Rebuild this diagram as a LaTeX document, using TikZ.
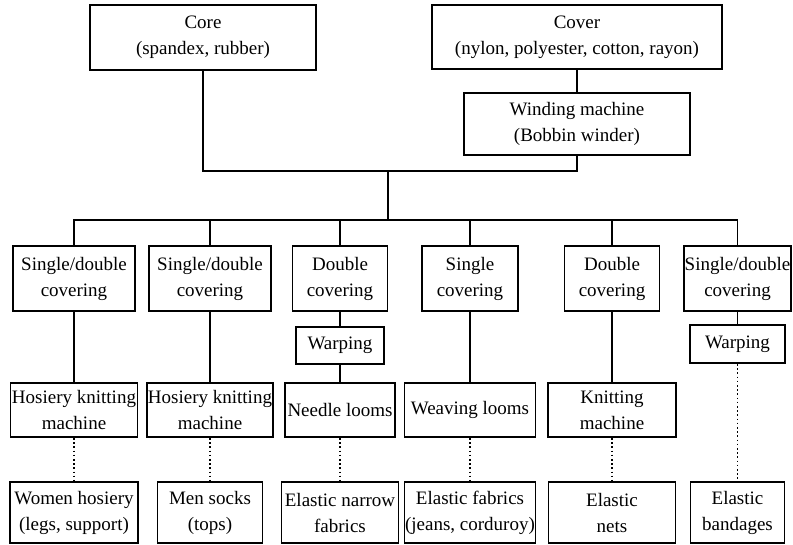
\documentclass[tikz,border=0pt]{standalone}
\usepackage{fontspec}
\setmainfont{Liberation Serif}
\begin{document}
\begin{tikzpicture}[x=1pt,y=-1pt,line width=1.8pt,
  box/.style={draw,align=center,inner sep=0pt,font=\fontsize{19}{26}\selectfont},
  dots/.style={line width=1.6pt,dash pattern=on 1.6pt off 2.6pt}]
  \useasboundingbox (0,0) rectangle (793,544);
  \node[box,minimum width=226,minimum height=65] (core) at (203,37.5) {Core\\(spandex, rubber)};
  \node[box,minimum width=290,minimum height=64] (cover) at (577,37) {Cover\\(nylon, polyester, cotton, rayon)};
  \node[box,minimum width=226,minimum height=62] (wind) at (577,124) {Winding machine\\(Bobbin winder)};
  \coordinate (join) at (388,171);
  \coordinate (bus) at (388,220);
  \node[box,minimum width=122,minimum height=65] (r1) at (74,278.5) {Single/double\\covering};
  \node[box,minimum width=122,minimum height=65] (r2) at (210,278.5) {Single/double\\covering};
  \node[box,minimum width=95,minimum height=65] (r3) at (340,278.5) {Double\\covering};
  \node[box,minimum width=96,minimum height=65] (r4) at (470,278.5) {Single\\covering};
  \node[box,minimum width=95,minimum height=65] (r5) at (612,278.5) {Double\\covering};
  \node[box,minimum width=107,minimum height=65] (r6) at (737.5,278.5) {Single/double\\covering};
  \node[box,minimum width=88,minimum height=37] (w3) at (340,345.5) {Warping};
  \node[box,minimum width=95,minimum height=38] (w6) at (737.5,344) {Warping};
  \node[box,minimum width=127,minimum height=54] (m1) at (74,410) {Hosiery knitting\\machine};
  \node[box,minimum width=126,minimum height=54] (m2) at (210,410) {Hosiery knitting\\machine};
  \node[box,minimum width=110,minimum height=54] (m3) at (340,410) {Needle looms};
  \node[box,minimum width=131,minimum height=54] (m4) at (470,410) {Weaving looms};
  \node[box,minimum width=128,minimum height=54] (m5) at (612,410) {Knitting\\machine};
  \node[box,minimum width=128,minimum height=61] (p1) at (74,512.5) {Women hosiery\\(legs, support)};
  \node[box,minimum width=105,minimum height=61] (p2) at (210,512.5) {Men socks\\(tops)};
  \node[box,minimum width=117,minimum height=61] (p3) at (340,512.5) {Elastic narrow\\fabrics};
  \node[box,minimum width=131,minimum height=61] (p4) at (470,512.5) {Elastic fabrics\\(jeans, corduroy)};
  \node[box,minimum width=127,minimum height=61] (p5) at (612,512.5) {Elastic\\nets};
  \node[box,minimum width=94,minimum height=61] (p6) at (737.5,512.5) {Elastic\\bandages};
  \draw (cover) -- (wind);
  \draw (core.south) |- (join) -| (wind.south);
  \draw (join) -- (bus);
  \foreach \c in {1,...,6} \draw (bus) -| (r\c.north);
  \draw (r1) -- (m1) (r2) -- (m2) (r3) -- (w3) -- (m3) (r4) -- (m4) (r5) -- (m5) (r6) -- (w6);
  \draw[dots] (m1) -- (p1) (m2) -- (p2) (m3) -- (p3) (m4) -- (p4) (m5) -- (p5) (w6) -- (p6);
\end{tikzpicture}
\end{document}
